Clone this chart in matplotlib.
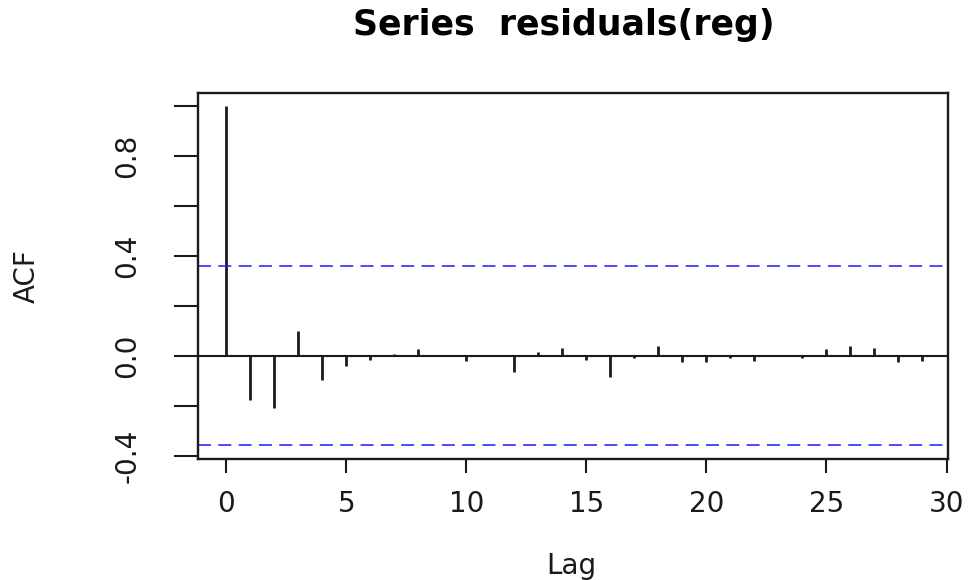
import numpy as np
import matplotlib
matplotlib.use("Agg")
import matplotlib.pyplot as plt

# ACF of the regression residuals
lags = np.arange(0, 30)
acf_vals = [1.0, -0.176, -0.209, 0.101, -0.096, -0.040, -0.016, 0.008, 0.027, 0.002,
            -0.021, -0.002, -0.065, 0.015, 0.033, -0.016, -0.085, -0.009, 0.040, -0.023,
            -0.023, -0.009, -0.019, 0.001, -0.009, 0.027, 0.040, 0.033, -0.023, -0.019]
n_obs = 30
ci = 1.96 / np.sqrt(n_obs)

xticks = [0, 5, 10, 15, 20, 25, 30]
yticks = [-0.4, -0.2, 0.0, 0.2, 0.4, 0.6, 0.8, 1.0]
ytick_labels = ["-0.4", "", "0.0", "", "0.4", "", "0.8", ""]

plt.rcParams['font.family'] = ['DejaVu Sans']

fig = plt.figure(figsize=(9.71, 5.8), dpi=100)
ax = fig.add_axes([0.204, 0.2086, 0.7725, 0.6311])

ax.vlines(lags, 0, acf_vals, color='#1a1a1a', lw=2.0)
ax.axhline(0, color='#1a1a1a', lw=1.5)
for y in (ci, -ci):
    ln = ax.axhline(y, color='#1a1aff', lw=1.1)
    ln.set_dashes((8.5, 4.8))

ax.set_xlim(-1.18, 30.07)
ax.set_ylim(-0.412, 1.051)

ax.set_xticks(xticks)
ax.set_xticklabels([str(t) for t in xticks], fontsize=20, color='#1a1a1a')
ax.set_yticks(yticks)
ax.set_yticklabels(ytick_labels, fontsize=20, rotation=90, va='center', color='#1a1a1a')
ax.tick_params(axis='x', length=10, width=1.5, pad=12, color='#1a1a1a')
ax.tick_params(axis='y', length=17, width=1.5, pad=24, color='#1a1a1a')

for s in ax.spines.values():
    s.set_linewidth(1.7)
    s.set_color('#1a1a1a')

ax.set_xlabel("Lag", fontsize=20, color='#1a1a1a', va='top')
ax.xaxis.set_label_coords(0.497, -0.255)
ax.set_ylabel("ACF", fontsize=20, color='#1a1a1a')
ax.yaxis.set_label_coords(-0.21, 0.5)

fig.text(564 / 971, 1 - 35 / 580, "Series  residuals(reg)", ha='center', va='baseline',
         fontsize=25, fontweight='bold', color='black')

fig.savefig("out.png", dpi=100)
